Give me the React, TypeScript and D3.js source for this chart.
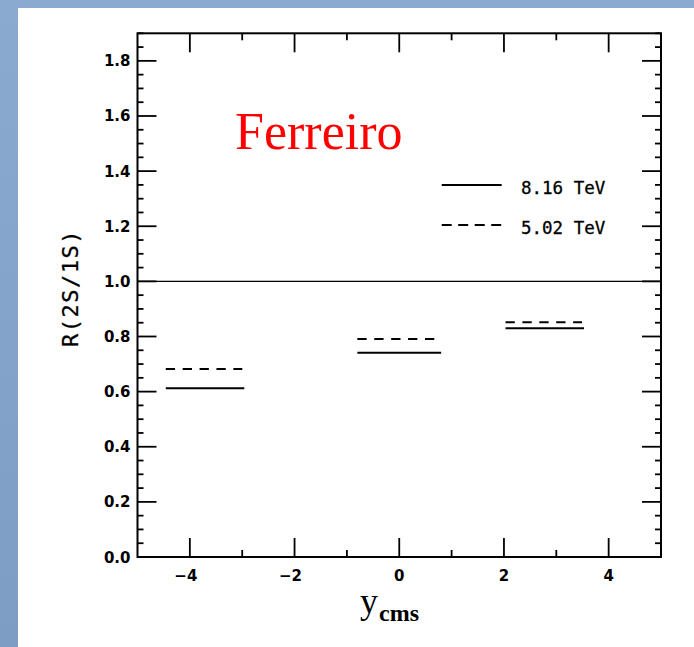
import React from "react";
import * as d3 from "d3";

const binLow = [-4.46, -0.8, 2.03];
const binHigh = [-2.96, 0.8, 3.53];
const ratio816 = [0.612, 0.741, 0.83];
const ratio502 = [0.682, 0.791, 0.852];
const xTicks = [-4, -2, 0, 2, 4];
const yTicks = [0, 0.2, 0.4, 0.6, 0.8, 1.0, 1.2, 1.4, 1.6, 1.8];
const legendLabels = ["8.16 TeV", "5.02 TeV"];

const W = 694;
const H = 647;
const L = 137.5, R = 661, T = 33.3, B = 557;

export default function App() {
  const x = d3.scaleLinear().domain([-5, 5]).range([L, R]);
  const y = d3.scaleLinear().domain([0, 1.9]).range([B, T]);
  const xMinor = d3.range(-5, 5.001, 1);
  const yMinor = d3.range(0, 1.9001, 0.05).map((v) => +v.toFixed(2));
  const mono = "'DejaVu Sans Mono', monospace";
  const sans = "'DejaVu Sans', sans-serif";
  const line = d3.line<[number, number]>().x((d) => d[0]).y((d) => d[1]);

  return (
    <svg
      width={W}
      height={H}
      style={{ position: "absolute", left: 0, top: 0 }}
      xmlns="http://www.w3.org/2000/svg"
    >
      <defs>
        <linearGradient id="bg" x1="0" y1="0" x2="0" y2="1">
          <stop offset="0" stopColor="#8aaad0" />
          <stop offset="1" stopColor="#7d9dc5" />
        </linearGradient>
      </defs>
      <rect x={0} y={0} width={W} height={H} fill="url(#bg)" />
      <rect x={18} y={8} width={W - 18} height={H - 8} fill="#ffffff" />

      {yMinor.map((v, i) => {
        const major = Math.abs(v * 5 - Math.round(v * 5)) < 1e-6;
        const len = major ? 19 : 6;
        return (
          <g key={"ym" + i} stroke="#000" strokeWidth={1.8}>
            <line x1={L} x2={L + len} y1={y(v)} y2={y(v)} />
            <line x1={R} x2={R - len} y1={y(v)} y2={y(v)} />
          </g>
        );
      })}
      {xMinor.map((v, i) => {
        const major = v % 2 === 0;
        const len = major ? 19 : 7;
        if (v === -5 || v === 5) return null;
        return (
          <g key={"xm" + i} stroke="#000" strokeWidth={1.8}>
            <line x1={x(v)} x2={x(v)} y1={B} y2={B - len} />
            <line x1={x(v)} x2={x(v)} y1={T} y2={T + len} />
          </g>
        );
      })}

      <rect x={L} y={T} width={R - L} height={B - T} fill="none" stroke="#000" strokeWidth={2} />

      {yTicks.map((v, i) => (
        <text
          key={"yl" + i}
          x={L - 7}
          y={y(v) + 5.5}
          textAnchor="end"
          fontFamily={sans}
          fontWeight="bold"
          fontSize={15}
          fill="#000"
        >
          {v.toFixed(1)}
        </text>
      ))}
      {xTicks.map((v, i) => (
        <text
          key={"xl" + i}
          x={x(v) + (v < 0 ? -4 : 0)}
          y={581}
          textAnchor="middle"
          fontFamily={sans}
          fontWeight="bold"
          fontSize={15}
          fill="#000"
        >
          {v < 0 ? "\u2212" + Math.abs(v) : String(v)}
        </text>
      ))}

      <line x1={L} x2={R} y1={y(1)} y2={y(1)} stroke="#000" strokeWidth={1.4} />

      {binLow.map((lo, i) => (
        <g key={"d" + i}>
          <path
            d={line([[x(lo), y(ratio816[i])], [x(binHigh[i]), y(ratio816[i])]]) || ""}
            stroke="#000"
            strokeWidth={2}
            fill="none"
          />
          <path
            d={line([[x(lo), y(ratio502[i])], [x(binHigh[i]) - 2, y(ratio502[i])]]) || ""}
            stroke="#000"
            strokeWidth={2}
            fill="none"
            strokeDasharray="9.3,7.6"
          />
        </g>
      ))}

      {legendLabels.map((lab, i) => {
        const ly = 185 + i * 40;
        return (
          <g key={"lg" + i}>
            <line
              x1={441.7}
              x2={501.7}
              y1={ly}
              y2={ly}
              stroke="#000"
              strokeWidth={1.8}
              strokeDasharray={i === 1 ? "10,6.5" : undefined}
            />
            <text
              x={521}
              y={ly + 8.5}
              fontFamily={mono}
              fontSize={17.5}
              fill="#000"
              stroke="#000"
              strokeWidth={0.3}
            >
              {lab}
            </text>
          </g>
        );
      })}

      <text
        x={235}
        y={149}
        fontFamily="'Liberation Serif', 'Times New Roman', serif"
        fontSize={52}
        fill="#ff0000"
      >
        Ferreiro
      </text>

      <text
        transform="translate(78,288) rotate(-90)"
        textAnchor="middle"
        fontFamily={mono}
        fontSize={22}
        letterSpacing={1.5}
        fill="#000"
        stroke="#000"
        strokeWidth={0.3}
      >
        R(2S/1S)
      </text>

      <text x={360} y={613} fontFamily="'Liberation Serif', serif" fill="#000">
        <tspan fontSize={36}>y</tspan>
        <tspan fontSize={24} fontWeight="bold" dy={8} dx={1}>
          cms
        </tspan>
      </text>
    </svg>
  );
}
